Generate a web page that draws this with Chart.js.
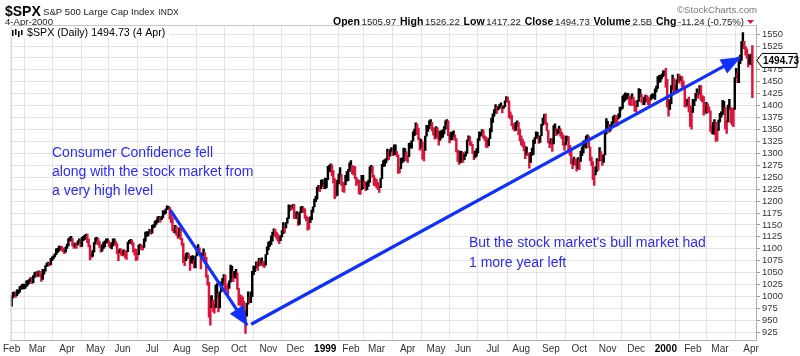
<!DOCTYPE html>
<html><head><meta charset="utf-8">
<script src="https://cdn.jsdelivr.net/npm/chart.js@4.4.1/dist/chart.umd.min.js"></script>
<style>html,body{margin:0;padding:0;background:#fff;overflow:hidden}canvas{display:block}</style>
</head><body>
<canvas id="c" width="800" height="356"></canvas>
<script>
// ---- data (daily S&P 500 bars, Feb 1998 - 4 Apr 2000), one inner list per month ----
const monthLabels = ['Feb','Mar','Apr','May','Jun','Jul','Aug','Sep','Oct','Nov','Dec','1999','Feb','Mar','Apr','May','Jun','Jul','Aug','Sep','Oct','Nov','Dec','2000','Feb','Mar','Apr'];
const yTicks = [925,950,975,1000,1025,1050,1075,1100,1125,1150,1175,1200,1225,1250,1275,1300,1325,1350,1375,1400,1425,1450,1475,1500,1525,1550];

const lows1998 = [
 [980,997,1001,998,1002,1006,1009,1015,1016,1016,1017,1021,1024,1027,1031,1027,1029,1040,1044],
 [1041,1043,1042,1032,1036,1047,1053,1063,1064,1064,1067,1075,1079,1083,1088,1092,1095,1099,1096,1094,1090,1093],
 [1101,1106,1117,1116,1106,1101,1104,1101,1108,1112,1104,1105,1117,1119,1124,1113,1104,1077,1081,1084,1093],
 [1110,1117,1109,1103,1093,1095,1101,1104,1112,1113,1105,1102,1100,1106,1110,1106,1090,1075,1092,1087],
 [1085,1087,1081,1078,1094,1111,1112,1108,1093,1087,1075,1077,1088,1103,1098,1098,1103,1116,1126,1127,1133,1131],
 [1133,1144,1146,1151,1155,1157,1156,1161,1165,1172,1174,1182,1183,1162,1155,1138,1134,1133,1128,1122,1125,1119],
 [1107,1071,1065,1075,1080,1081,1055,1070,1070,1060,1060,1085,1096,1088,1058,1082,1085,1073,1040,1024,957],
 [940,977,969,965,977,998,968,976,1010,1023,1031,1015,1013,1004,1017,1030,1039,1031,1040,1038,1015],
 [982,982,980,979,956,923,959,984,987,987,1000,1046,1052,1060,1055,1064,1065,1068,1063,1061,1066,1088],
 [1098,1105,1109,1116,1130,1126,1121,1116,1111,1117,1125,1132,1134,1144,1154,1164,1180,1182,1185,1163],
 [1164,1163,1149,1151,1176,1177,1176,1164,1159,1139,1141,1155,1161,1177,1188,1199,1204,1223,1220,1226,1231,1226]
];
const highs1998 = [
 [1002,1009,1010,1009,1014,1014,1021,1023,1026,1026,1025,1033,1034,1036,1040,1040,1044,1050,1052],
 [1052,1054,1053,1047,1057,1057,1065,1070,1072,1071,1080,1083,1086,1090,1100,1101,1106,1106,1105,1102,1098,1104],
 [1110,1121,1124,1126,1122,1112,1112,1112,1117,1121,1119,1124,1126,1129,1131,1131,1121,1108,1092,1097,1113],
 [1123,1124,1122,1116,1106,1109,1114,1117,1121,1121,1117,1110,1113,1121,1121,1116,1111,1096,1100,1100],
 [1096,1098,1096,1096,1114,1118,1120,1119,1113,1100,1099,1090,1108,1110,1108,1105,1121,1135,1136,1135,1141,1140],
 [1149,1151,1158,1160,1167,1168,1166,1168,1180,1179,1184,1190,1189,1187,1170,1165,1144,1149,1147,1135,1144,1144],
 [1122,1112,1083,1090,1092,1090,1084,1085,1086,1076,1085,1104,1109,1102,1092,1090,1100,1092,1082,1045,1030],
 [1001,1002,993,984,1024,1027,1006,1010,1031,1038,1046,1045,1022,1027,1033,1066,1064,1053,1053,1057,1049],
 [1017,1004,1002,999,990,970,986,1010,998,1010,1053,1064,1064,1073,1072,1080,1078,1081,1074,1073,1088,1104],
 [1114,1116,1127,1135,1142,1141,1135,1131,1126,1128,1138,1155,1147,1155,1165,1192,1191,1188,1193,1193],
 [1176,1178,1172,1177,1188,1189,1186,1184,1169,1166,1163,1167,1181,1188,1204,1210,1229,1233,1233,1244,1245,1234]
];
const lows1999 = [
 [1226,1228,1245,1262,1261,1253,1238,1205,1210,1212,1236,1251,1233,1220,1218,1234,1242,1243,1262],
 [1268,1257,1255,1247,1233,1236,1215,1214,1224,1226,1230,1222,1224,1231,1239,1260,1250,1233,1232],
 [1228,1224,1218,1228,1247,1272,1273,1280,1286,1287,1294,1303,1295,1297,1298,1293,1258,1259,1268,1280,1283,1298,1285],
 [1281,1293,1311,1311,1326,1337,1340,1341,1328,1307,1311,1288,1284,1306,1336,1346,1352,1358,1347,1338,1330],
 [1334,1331,1317,1327,1332,1334,1341,1351,1362,1337,1322,1328,1328,1335,1327,1303,1283,1277,1280,1282],
 [1281,1287,1294,1300,1326,1317,1316,1300,1287,1291,1294,1301,1327,1336,1340,1332,1327,1313,1312,1316,1331,1345],
 [1365,1378,1384,1384,1391,1394,1399,1385,1394,1398,1409,1407,1375,1372,1358,1351,1347,1348,1357,1339,1326],
 [1318,1314,1305,1289,1298,1295,1269,1281,1296,1298,1321,1331,1332,1321,1323,1337,1359,1364,1360,1347,1322,1312],
 [1320,1304,1320,1346,1337,1341,1343,1336,1331,1317,1307,1318,1326,1303,1296,1278,1268,1277,1275,1263,1268],
 [1266,1283,1295,1301,1315,1311,1330,1312,1285,1275,1245,1233,1255,1262,1265,1284,1287,1275,1281,1297,1341],
 [1350,1344,1347,1354,1362,1365,1362,1357,1372,1376,1391,1394,1408,1411,1414,1414,1402,1400,1414,1400,1388],
 [1387,1398,1409,1419,1407,1402,1402,1408,1408,1402,1400,1412,1415,1416,1413,1429,1436,1448,1450,1456,1461,1464]
];
const highs1999 = [
 [1248,1247,1273,1275,1278,1276,1264,1247,1237,1244,1257,1270,1256,1240,1236,1254,1262,1266,1280],
 [1285,1275,1273,1273,1250,1245,1244,1225,1254,1254,1242,1240,1240,1244,1272,1275,1273,1254,1248],
 [1245,1239,1230,1247,1277,1285,1287,1289,1309,1303,1308,1312,1306,1318,1318,1304,1297,1270,1290,1290,1311,1310,1304],
 [1295,1321,1322,1327,1345,1351,1364,1362,1353,1332,1329,1324,1306,1336,1359,1359,1368,1371,1365,1354,1352],
 [1356,1354,1347,1346,1348,1350,1356,1368,1371,1368,1340,1344,1345,1347,1339,1331,1307,1305,1305,1304],
 [1302,1298,1304,1328,1337,1335,1324,1319,1304,1305,1310,1331,1345,1344,1350,1349,1337,1334,1328,1332,1352,1374],
 [1383,1392,1402,1397,1398,1403,1406,1400,1399,1410,1419,1418,1410,1387,1380,1363,1360,1365,1368,1365,1351],
 [1337,1330,1324,1316,1313,1301,1298,1302,1311,1328,1333,1345,1344,1335,1337,1361,1374,1382,1383,1364,1348,1327],
 [1331,1331,1358,1362,1352,1350,1357,1352,1344,1339,1322,1336,1336,1335,1317,1311,1287,1292,1288,1288,1291],
 [1287,1305,1313,1326,1328,1336,1339,1336,1313,1292,1283,1255,1272,1289,1285,1312,1304,1297,1297,1342,1373],
 [1367,1360,1360,1366,1377,1380,1379,1374,1383,1397,1397,1420,1423,1427,1425,1426,1421,1418,1425,1418,1410],
 [1400,1411,1436,1434,1423,1412,1418,1422,1421,1418,1414,1422,1425,1425,1435,1441,1461,1463,1464,1466,1473,1473]
];
const lows2000 = [
 [1438,1397,1378,1392,1404,1434,1427,1425,1432,1449,1447,1453,1439,1439,1398,1397,1400,1387,1356,1351],
 [1386,1400,1410,1420,1415,1424,1411,1408,1380,1387,1384,1386,1386,1346,1341,1341,1340,1325,1326,1348],
 [1366,1376,1381,1388,1351,1342,1366,1391,1364,1359,1356,1392,1458,1448,1448,1488,1495,1523,1519,1506,1499,1481,1487],
 [1486,1417]
];
const highs2000 = [
 [1478,1455,1413,1412,1442,1464,1458,1442,1454,1466,1465,1461,1461,1452,1441,1414,1413,1418,1400,1395],
 [1413,1412,1426,1435,1428,1442,1442,1421,1419,1396,1407,1404,1397,1389,1357,1365,1371,1365,1351,1370],
 [1384,1387,1411,1409,1397,1369,1401,1413,1396,1395,1395,1459,1478,1468,1494,1506,1534,1553,1535,1524,1519,1508,1506],
 [1508,1526]
];
const lastClose = 1494.73;
// annotation arrows: [fromIndex, fromValue, toIndex, toValue] (trading-day index, index points)
const arrowFall = [117.4, 1181, 174.2, 940];
const arrowRise = [177.2, 942, 538.9, 1501];

// ---- build tables for the library ----
const lowMonths = [...lows1998, ...lows1999, ...lows2000];
const highMonths = [...highs1998, ...highs1999, ...highs2000];
const monthStarts = [];
let n = 0;
lowMonths.forEach(m => { monthStarts.push(n); n += m.length; });
const lows = lowMonths.flat();
const highs = highMonths.flat();
const bars = lows.map((l, i) => ({ x: i, y: [l, highs[i]] }));
const RED = '#dc143c';
const barColors = lows.map((l, i) => {
  if (i === 0) return '#000';
  const mid = (l + highs[i]) / 2, prev = (lows[i-1] + highs[i-1]) / 2;
  return mid < prev ? RED : '#000';
});

const SANS = '"Liberation Sans", Arial, sans-serif';
const BLUE_ARROW = '#1030ff';
const BLUE_TEXT = '#2a2aff';

function arrowHead(ctx, x1, y1, x2, y2, L, W) {
  const dx = x2 - x1, dy = y2 - y1, d = Math.hypot(dx, dy);
  const ux = dx / d, uy = dy / d, nx = -uy, ny = ux;
  const bx = x2 - ux * L, by = y2 - uy * L;
  ctx.beginPath();
  ctx.moveTo(x2 + ux * 1, y2 + uy * 1);
  ctx.lineTo(bx + nx * W, by + ny * W);
  ctx.lineTo(bx - nx * W, by - ny * W);
  ctx.closePath();
  ctx.fill();
}

const decor = {
  id: 'decor',
  beforeDraw(chart) {
    const c = chart.ctx;
    c.save(); c.fillStyle = '#fff'; c.fillRect(0, 0, chart.width, chart.height); c.restore();
  },
  afterDatasetsDraw(chart) {
    const c = chart.ctx, xs = chart.scales.x, ys = chart.scales.y;
    c.save();
    c.fillStyle = BLUE_ARROW;
    [arrowFall, arrowRise].forEach(a => {
      arrowHead(c, xs.getPixelForValue(a[0]), ys.getPixelForValue(a[1]),
                xs.getPixelForValue(a[2]), ys.getPixelForValue(a[3]), 19, 8);
    });
    c.fillStyle = BLUE_TEXT;
    c.font = '14px ' + SANS;
    c.textBaseline = 'middle';
    c.fillText('Consumer Confidence fell', 52, 153);
    c.fillText('along with the stock market from', 52, 172);
    c.fillText('a very high level', 52, 191);
    c.fillText("But the stock market's bull market had", 469, 243);
    c.fillText('1 more year left', 469, 263);
    c.restore();
  },
  afterDraw(chart) {
    const c = chart.ctx, a = chart.chartArea, ys = chart.scales.y;
    c.save();
    // frame
    c.strokeStyle = '#c8c8c8'; c.lineWidth = 1;
    c.beginPath();
    c.moveTo(a.left + 0.5, a.bottom); c.lineTo(a.left + 0.5, a.top + 0.5); c.lineTo(a.right, a.top + 0.5);
    c.stroke();
    // title block
    c.textBaseline = 'middle';
    c.fillStyle = '#000';
    c.font = 'bold 14px ' + SANS; c.fillText('$SPX', 5, 12);
    c.fillStyle = '#222';
    c.font = '9.6px ' + SANS; c.fillText('S&P 500 Large Cap Index', 43, 12);
    const tw = c.measureText('S&P 500 Large Cap Index').width;
    c.font = '8.5px ' + SANS; c.fillText('INDX', 43 + tw + 4, 12.5);
    c.font = '9.6px ' + SANS; c.fillText('4-Apr-2000', 5, 22);
    c.fillStyle = '#777';
    c.font = '9.6px ' + SANS; c.fillText('\u00A9StockCharts.com', 677, 10);
    // quote line, laid out to span the same width as the original
    const parts = [['Open', 1], ['1505.97', 0], ['High', 1], ['1526.22', 0], ['Low', 1], ['1417.22', 0],
                   ['Close', 1], ['1494.73', 0], ['Volume', 1], ['2.5B', 0], ['Chg', 1], ['-11.24 (-0.75%)', 0]];
    const fontOf = p => (p[1] ? 'bold 10.5px ' : '9.6px ') + SANS;
    let total = 0;
    parts.forEach(p => { c.font = fontOf(p); total += c.measureText(p[0]).width; });
    const x0 = 333, x1 = 744;
    const nGapSmall = 6, nGapBig = 5;
    const unit = (x1 - x0 - total) / (nGapSmall + nGapBig * 2.2);
    let x = x0;
    parts.forEach((p, i) => {
      c.font = fontOf(p);
      c.fillStyle = p[1] ? '#000' : '#222';
      c.fillText(p[0], x, 22);
      x += c.measureText(p[0]).width;
      if (i < parts.length - 1) x += p[1] ? unit : unit * 2.2;
    });
    c.fillStyle = RED;
    c.beginPath(); c.moveTo(x + 3, 20); c.lineTo(x + 10, 20); c.lineTo(x + 6.5, 24); c.closePath(); c.fill();
    // in-chart legend
    c.fillStyle = '#fff'; c.fillRect(a.left + 1, a.top + 1, 158, 12);
    c.fillStyle = '#000';
    c.fillRect(12, 30, 1.5, 6); c.fillRect(15, 29, 1.5, 6); c.fillRect(18, 31, 1.5, 6); c.fillRect(21, 30, 1.5, 5);
    c.font = '10.7px ' + SANS;
    c.fillText('$SPX (Daily) 1494.73 (4 Apr)', 27, 33);
    // last price tag
    const py = ys.getPixelForValue(lastClose);
    c.beginPath();
    c.moveTo(757, py); c.lineTo(762, py - 7); c.lineTo(797, py - 7); c.lineTo(797, py + 7); c.lineTo(762, py + 7); c.closePath();
    c.fillStyle = '#fff'; c.fill();
    c.strokeStyle = '#000'; c.lineWidth = 1; c.stroke();
    c.fillStyle = '#000'; c.font = 'bold 10px ' + SANS;
    c.fillText('1494.73', 763, py + 0.5);
    c.restore();
  }
};

new Chart(document.getElementById('c'), {
  type: 'bar',
  data: {
    datasets: [
      { type: 'line', data: [{x: arrowFall[0], y: arrowFall[1]}, {x: arrowFall[2], y: arrowFall[3]}],
        borderColor: BLUE_ARROW, borderWidth: 3.2, pointRadius: 0, order: 0 },
      { type: 'line', data: [{x: arrowRise[0], y: arrowRise[1]}, {x: arrowRise[2], y: arrowRise[3]}],
        borderColor: BLUE_ARROW, borderWidth: 3.2, pointRadius: 0, order: 0 },
      { type: 'bar', data: bars, backgroundColor: barColors, barThickness: 1.8, grouped: false, order: 5 }
    ]
  },
  options: {
    responsive: false, animation: false, devicePixelRatio: 1,
    layout: { padding: { left: 9, top: 25, right: 0, bottom: 0 } },
    plugins: { legend: { display: false }, tooltip: { enabled: false } },
    scales: {
      x: {
        type: 'linear', min: -0.74, max: 550.7, offset: false,
        afterBuildTicks: s => { s.ticks = monthStarts.map(v => ({ value: v })); },
        afterFit: s => { s.height = 16; },
        ticks: {
          autoSkip: false, maxRotation: 0, padding: 3,
          callback: (v, i) => monthLabels[i],
          color: ctx => (/^\d{4}$/.test(monthLabels[ctx.index]) ? '#000' : '#333'),
          font: ctx => ({ family: SANS, size: 10, weight: /^\d{4}$/.test(monthLabels[ctx.index]) ? 'bold' : 'normal' })
        },
        grid: { color: '#e4e4e4', drawTicks: false },
        border: { color: '#b0b0b0' }
      },
      y: {
        position: 'right', min: 909, max: 1569,
        afterBuildTicks: s => { s.ticks = yTicks.map(v => ({ value: v })); },
        afterFit: s => { s.width = 44; },
        ticks: { autoSkip: false, color: '#333', font: { family: SANS, size: 9.4 }, padding: 2,
                 callback: v => String(v) },
        grid: { color: '#e4e4e4', tickLength: 4, tickColor: '#999' },
        border: { color: '#b0b0b0' }
      }
    }
  },
  plugins: [decor]
});
</script>
</body></html>
